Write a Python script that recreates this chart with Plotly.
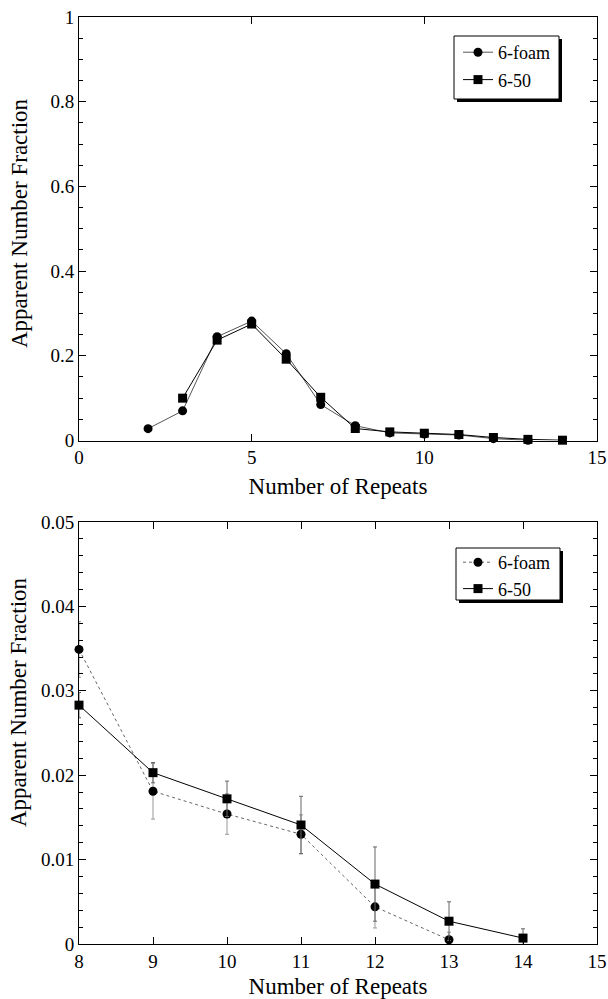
import plotly.graph_objects as go

# ---- data ----
top_foam_x = [2, 3, 4, 5, 6, 7, 8, 9, 10, 11, 12, 13]
top_foam_y = [0.028, 0.070, 0.245, 0.282, 0.205, 0.085, 0.035, 0.018, 0.0154, 0.013, 0.0044, 0.0005]
top_50_x = [3, 4, 5, 6, 7, 8, 9, 10, 11, 12, 13, 14]
top_50_y = [0.100, 0.237, 0.275, 0.192, 0.102, 0.0283, 0.0203, 0.0172, 0.0141, 0.0071, 0.0027, 0.0007]

bot_foam_x = [8, 9, 10, 11, 12, 13]
bot_foam_y = [0.0349, 0.0181, 0.0154, 0.0130, 0.0044, 0.0005]
bot_foam_err = [0.0033, 0.0033, 0.0024, 0.0023, 0.0025, 0.0009]
bot_50_x = [8, 9, 10, 11, 12, 13, 14]
bot_50_y = [0.0283, 0.0203, 0.0172, 0.0141, 0.0071, 0.0027, 0.0007]
bot_50_err = [0.0015, 0.0012, 0.0021, 0.0034, 0.0044, 0.0023, 0.0011]

series_names = ["6-foam", "6-50"]
top_yticks = [0, 0.2, 0.4, 0.6, 0.8, 1]
bot_yticks = [0, 0.01, 0.02, 0.03, 0.04, 0.05]

# ---- layout geometry (pixels) ----
W, H = 608, 999
L, R, T, B = 79, 11, 17, 55
PW = W - L - R
PH = H - T - B

def px(x):
    return (x - L) / PW

def py(y):
    return (H - B - y) / PH

FONT = "Liberation Serif"
MS = 9

fig = go.Figure()

fig.add_trace(go.Scatter(
    x=top_foam_x, y=top_foam_y, name=series_names[0], mode="lines+markers",
    line=dict(color="#555", width=1),
    marker=dict(symbol="circle", size=MS, color="black"),
    xaxis="x", yaxis="y", legend="legend", legendgroup="a", cliponaxis=False))
fig.add_trace(go.Scatter(
    x=top_50_x, y=top_50_y, name=series_names[1], mode="lines+markers",
    line=dict(color="black", width=1),
    marker=dict(symbol="square", size=MS, color="black"),
    xaxis="x", yaxis="y", legend="legend", legendgroup="b", cliponaxis=False))

fig.add_trace(go.Scatter(
    x=bot_foam_x, y=bot_foam_y, name=series_names[0], mode="lines+markers",
    line=dict(color="#666", width=1, dash="dot"),
    marker=dict(symbol="circle", size=MS, color="black"),
    error_y=dict(type="data", array=bot_foam_err, color="#999", thickness=1, width=2),
    xaxis="x2", yaxis="y2", legend="legend2", cliponaxis=False))
fig.add_trace(go.Scatter(
    x=bot_50_x, y=bot_50_y, name=series_names[1], mode="lines+markers",
    line=dict(color="black", width=1),
    marker=dict(symbol="square", size=MS, color="black"),
    error_y=dict(type="data", array=bot_50_err, color="#666", thickness=1, width=2),
    xaxis="x2", yaxis="y2", legend="legend2", cliponaxis=False))

axis_common = dict(showgrid=False, zeroline=False, showline=True, linecolor="black",
                   linewidth=1, mirror="ticks", ticks="inside", tickcolor="black",
                   automargin=False,
                   tickfont=dict(family=FONT, size=19, color="black"))

top_dom = [py(440.5), py(T)]
bot_dom = [py(H - B), py(522)]
title_font = dict(family=FONT, size=23, color="black")

leg_font = dict(family=FONT, size=18, color="black")
fig.update_layout(
    width=W, height=H, margin=dict(l=L, r=R, t=T, b=B),
    paper_bgcolor="white", plot_bgcolor="white", showlegend=True,
    font=dict(family=FONT, color="black"),
    xaxis=dict(range=[0, 15], tickvals=[0, 5, 10, 15], ticklen=7, domain=[0, 1],
               anchor="y", title=dict(text="Number of Repeats", font=title_font, standoff=10),
               **axis_common),
    yaxis=dict(range=[0, 1], tickvals=top_yticks, ticklen=7, domain=top_dom, anchor="x",
               minor=dict(dtick=0.05, ticks="inside", ticklen=4, tickcolor="black"),
               **axis_common),
    xaxis2=dict(range=[8, 15], dtick=1, ticklen=7, domain=[0, 1], anchor="y2",
                title=dict(text="Number of Repeats", font=title_font, standoff=12),
                **axis_common),
    yaxis2=dict(range=[0, 0.05], tickvals=bot_yticks, ticklen=7, domain=bot_dom, anchor="x2",
                minor=dict(dtick=0.002, ticks="inside", ticklen=4, tickcolor="black"),
                **axis_common),
    legend=dict(x=px(458), y=py(34), xanchor="left", yanchor="top",
                borderwidth=0, bgcolor="rgba(0,0,0,0)", font=leg_font, tracegroupgap=1),
    legend2=dict(x=px(458), y=py(544), xanchor="left", yanchor="top",
                 borderwidth=0, bgcolor="rgba(0,0,0,0)", font=leg_font, tracegroupgap=0),
)

# y titles as annotations
for yc in (223, 702):
    fig.add_annotation(text="Apparent Number Fraction", textangle=-90, xref="paper", yref="paper",
                       x=px(19), y=py(yc), xanchor="center", yanchor="middle", showarrow=False,
                       font=title_font)

# legend frames with drop shadows
for (l, t, r, b) in [(454, 36, 559, 99), (456, 548, 560, 600)]:
    fig.add_shape(type="rect", xref="paper", yref="paper",
                  x0=px(l + 3), x1=px(r + 3), y0=py(b + 3), y1=py(t + 3),
                  fillcolor="black", line=dict(width=0), layer="above")
    fig.add_shape(type="rect", xref="paper", yref="paper",
                  x0=px(l), x1=px(r), y0=py(b), y1=py(t),
                  fillcolor="white", line=dict(width=1, color="black"), layer="above")

fig.write_html("out.html")
